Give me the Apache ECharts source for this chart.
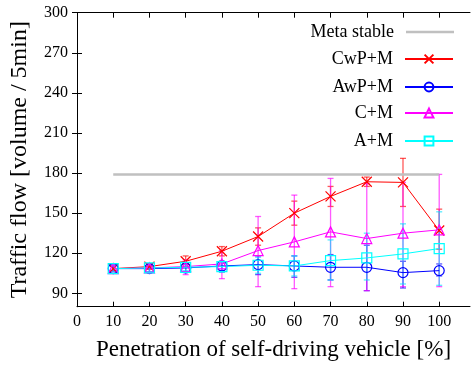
<!DOCTYPE html>
<html><head><meta charset="utf-8">
<script src="https://cdn.jsdelivr.net/npm/echarts@6/dist/echarts.min.js"></script>
<style>html,body{margin:0;padding:0;background:#fff}#c{width:471px;height:376px}</style>
</head><body><div id="c"></div>
<script>
var penetration = [10, 20, 30, 40, 50, 60, 70, 80, 90, 100];
var metaStable = [179, 179, 179, 179, 179, 179, 179, 179, 179, 179];
var cwp = [108.5, 110, 114, 121.5, 132.5, 150, 162.5, 173.5, 173, 137];
var cwpLow = [107, 108, 110, 118, 126, 141, 155, 170, 155, 123];
var cwpHigh = [110, 112, 118, 125, 139, 159, 170, 177, 191, 153];
var awp = [108.5, 108.5, 109, 110.5, 111.5, 110.5, 109.5, 109.5, 105.5, 107];
var awpLow = [106.5, 106, 106, 106, 104, 102, 100, 92, 94, 103];
var awpHigh = [110.5, 111, 112, 114, 118, 118, 119, 126, 114, 112];
var cm = [108.5, 109, 110, 112, 122, 128.5, 136, 131, 135, 137.5];
var cmLow = [106, 106, 104, 101, 95, 93.5, 95, 92, 95, 95];
var cmHigh = [111, 112, 115, 122, 147.5, 163.5, 176, 172, 173, 179];
var am = [108.5, 109, 109.5, 110, 111, 110.5, 114.5, 116.5, 119.5, 123.5];
var amLow = [106, 106, 107, 106, 105, 103, 100, 100, 97, 96];
var amHigh = [111, 111, 112, 114, 117, 118, 130, 135, 142, 151];
var xTicks = [0, 10, 20, 30, 40, 50, 60, 70, 80, 90, 100];
var yTicks = [90, 120, 150, 180, 210, 240, 270, 300];

var FONT = 'Liberation Serif';
function pairs(ys) { return penetration.map(function (x, i) { return [x, ys[i]]; }); }
function errData(lo, hi) { return penetration.map(function (x, i) { return [x, lo[i], hi[i]]; }); }
function errSeries(lo, hi, color) {
  return {
    type: 'custom', silent: true, z: 1,
    data: errData(lo, hi),
    encode: { x: 0, y: [1, 2] },
    renderItem: function (params, api) {
      var x = api.value(0);
      var a = api.coord([x, api.value(1)]);
      var b = api.coord([x, api.value(2)]);
      var w = 3;
      var st = { stroke: color, lineWidth: 1.3, opacity: 0.65 };
      return { type: 'group', children: [
        { type: 'line', shape: { x1: a[0], y1: a[1], x2: b[0], y2: b[1] }, style: st },
        { type: 'line', shape: { x1: a[0] - w, y1: a[1], x2: a[0] + w, y2: a[1] }, style: st },
        { type: 'line', shape: { x1: b[0] - w, y1: b[1], x2: b[0] + w, y2: b[1] }, style: st }
      ]};
    }
  };
}
function lineSeries(name, ys, color, symbol, size) {
  return {
    name: name, type: 'line', data: pairs(ys), z: 3,
    symbol: symbol, symbolSize: size, showSymbol: true,
    lineStyle: { color: color, width: 1 },
    itemStyle: { color: 'rgba(0,0,0,0)', borderColor: color, borderWidth: 1.2 },
    emphasis: { disabled: true }
  };
}
var crossPath = 'path://M0,0L10,10M10,0L0,10';
var legendTops = [23, 50, 78, 104, 132];
var names = ['Meta stable', 'CwP+M', 'AwP+M', 'C+M', 'A+M'];
var legends = names.map(function (n, i) {
  var base = {
    data: [n], right: 17, top: legendTops[i], align: 'right', orient: 'vertical',
    itemWidth: 48, itemHeight: 11, itemGap: 0, padding: 0, selectedMode: false,
    textStyle: { fontFamily: FONT, fontSize: 18, color: '#000', padding: [0, 7, 0, 0] }
  };
  if (i === 0) {
    base.icon = 'rect';
    base.itemHeight = 2.5;
    base.itemStyle = { color: '#c0c0c0', borderWidth: 0 };
  }
  return base;
});

var chart = echarts.init(document.getElementById('c'), null, { renderer: 'canvas' });
chart.setOption({
  animation: false,
  backgroundColor: '#fff',
  legend: legends,
  grid: { left: 74, right: 1, top: 12.7, bottom: 69.3, show: false },
  xAxis: [{
    type: 'value', min: 0, max: 108.5, position: 'bottom',
    name: 'Penetration of self-driving vehicle [%]', nameLocation: 'middle', nameGap: 32,
    nameTextStyle: { fontFamily: FONT, fontSize: 23, color: '#000' },
    axisLine: { lineStyle: { color: '#000', width: 1 } },
    axisTick: { inside: true, length: 5, customValues: xTicks, lineStyle: { color: '#000' } },
    axisLabel: { customValues: xTicks, fontFamily: FONT, fontSize: 16, color: '#000', margin: 7 },
    splitLine: { show: false }
  }, {
    type: 'value', min: 0, max: 108.5, position: 'top',
    axisLine: { lineStyle: { color: '#000', width: 1 } },
    axisTick: { inside: true, length: 5, customValues: xTicks, lineStyle: { color: '#000' } },
    axisLabel: { show: false }, splitLine: { show: false }
  }],
  yAxis: [{
    type: 'value', min: 80, max: 300, position: 'left',
    name: 'Traffic flow [volume / 5min]', nameLocation: 'middle', nameGap: 45, nameRotate: 90,
    nameTextStyle: { fontFamily: FONT, fontSize: 24, color: '#000' },
    axisLine: { show: true, lineStyle: { color: '#000', width: 1 } },
    axisTick: { show: true, inside: true, length: 5, customValues: yTicks, lineStyle: { color: '#000' } },
    axisLabel: { customValues: yTicks, fontFamily: FONT, fontSize: 16, color: '#000', margin: 9 },
    splitLine: { show: false }
  }, {
    type: 'value', min: 80, max: 300, position: 'right',
    axisLine: { show: true, lineStyle: { color: '#000', width: 1 } },
    axisTick: { show: true, inside: true, length: 5, customValues: yTicks, lineStyle: { color: '#000' } },
    axisLabel: { show: false }, splitLine: { show: false }
  }],
  series: [
    { name: 'Meta stable', type: 'line', data: pairs(metaStable), z: 2, showSymbol: false, symbol: 'none',
      lineStyle: { color: '#c0c0c0', width: 2.5 }, itemStyle: { color: '#c0c0c0' } },
    errSeries(cwpLow, cwpHigh, '#ff0000'),
    errSeries(awpLow, awpHigh, '#0000ff'),
    errSeries(cmLow, cmHigh, '#ff00ff'),
    errSeries(amLow, amHigh, '#00e0ff'),
    lineSeries('CwP+M', cwp, '#ff0000', crossPath, 10),
    lineSeries('AwP+M', awp, '#0000ff', 'circle', 10),
    lineSeries('C+M', cm, '#ff00ff', 'triangle', 10),
    lineSeries('A+M', am, '#00ffff', 'rect', 10)
  ]
});
</script></body></html>
